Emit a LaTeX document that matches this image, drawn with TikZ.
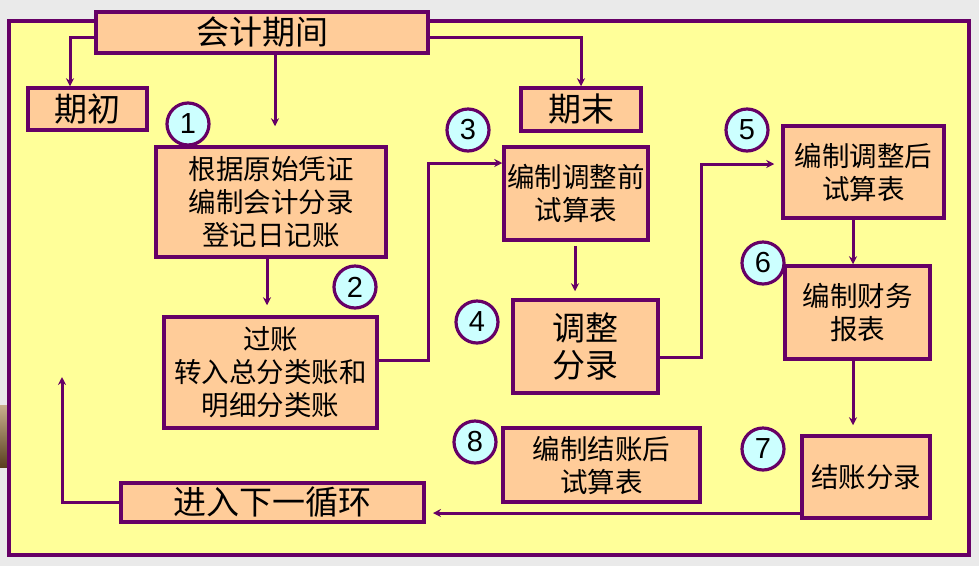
\documentclass[tikz,border=0pt]{standalone}
\usepackage{fontspec}
\setmainfont{Noto Sans CJK SC}
\newfontfamily\cjk{Noto Sans CJK SC}
\newfontfamily\numfont{Liberation Sans}
\usetikzlibrary{arrows.meta}
\definecolor{pur}{HTML}{660066}
\definecolor{panel}{HTML}{FFFF99}
\definecolor{boxfill}{HTML}{FFCC99}
\definecolor{circfill}{HTML}{CCFFFF}
\definecolor{bg}{HTML}{EAEAEA}
\tikzset{
  stepbox/.style={draw=pur, line width=3.5pt, fill=boxfill, inner sep=0pt, align=center, text=black},
  bigtxt/.style={font=\cjk\fontsize{33}{37}\selectfont},
  smalltxt/.style={font=\cjk\fontsize{27.5}{33}\selectfont},
  numcirc/.style={circle, draw=pur, line width=3.2pt, fill=circfill, minimum size=42pt, inner sep=0pt, font=\numfont\fontsize{29}{29}\selectfont},
  arr/.style={draw=pur, line width=3pt, -{Stealth[length=8pt,width=8pt]}},
  ln/.style={draw=pur, line width=3pt}
}
\begin{document}
\begin{tikzpicture}[x=1pt,y=-1pt]
\useasboundingbox (0,0) rectangle (979,566);
\fill[bg] (0,0) rectangle (979,566);
\shade[top color={rgb,255:red,200;green,176;blue,140}, bottom color={rgb,255:red,90;green,64;blue,32}] (0,405) rectangle (8,467);
\draw[pur, line width=3.5pt, fill=panel] (9,21) rectangle (969,555);

% nodes
\node[stepbox, bigtxt, minimum width=332pt, minimum height=41pt] (top) at (262,32.5) {会计期间};
\node[stepbox, bigtxt, minimum width=119pt, minimum height=42pt] (chu) at (87.5,109) {期初};
\node[stepbox, bigtxt, minimum width=120pt, minimum height=43pt] (mo) at (581,109.5) {期末};
\node[stepbox, smalltxt, minimum width=230pt, minimum height=110pt] (b1) at (271,202) {根据原始凭证\\编制会计分录\\登记日记账};
\node[stepbox, smalltxt, minimum width=213pt, minimum height=111pt] (b2) at (270.5,372.5) {过账\\转入总分类账和\\明细分类账};
\node[stepbox, smalltxt, minimum width=144pt, minimum height=93pt] (b3) at (576,193.5) {编制调整前\\试算表};
\node[stepbox, bigtxt, minimum width=145pt, minimum height=93pt] (b4) at (585.5,346.5) {调整\\分录};
\node[stepbox, smalltxt, minimum width=161pt, minimum height=92pt] (b5) at (863.5,172) {编制调整后\\试算表};
\node[stepbox, smalltxt, minimum width=145pt, minimum height=93pt] (b6) at (857.5,312.5) {编制财务\\报表};
\node[stepbox, smalltxt, minimum width=128pt, minimum height=82pt] (b7) at (866,477) {结账分录};
\node[stepbox, smalltxt, minimum width=197pt, minimum height=74pt] (b8) at (601.5,465) {编制结账后\\试算表};
\node[stepbox, bigtxt, minimum width=303pt, minimum height=39pt] (b9) at (272.5,502.5) {进入下一循环};

% numbered circles
\node[numcirc] (c1) at (188,124) {1};
\node[numcirc] (c2) at (355,287) {2};
\node[numcirc] (c3) at (468,130) {3};
\node[numcirc] (c4) at (477,322) {4};
\node[numcirc] (c5) at (747,130) {5};
\node[numcirc] (c6) at (763,263) {6};
\node[numcirc] (c7) at (763,449) {7};
\node[numcirc] (c8) at (475,442) {8};

% helper coordinates
\coordinate (k1) at (428,163);
\coordinate (k2) at (701,164);
\coordinate (e7) at (433,513);
\coordinate (e9) at (62,377);

% connectors
\draw[arr] ([yshift=-4.5pt]top.west) -| ([xshift=-17.5pt]chu.north);
\draw[arr] ([yshift=-4.5pt]top.east) -| (mo.north);
\draw[arr, shorten >=19pt] ([xshift=13pt]top.south) -- ([xshift=13pt]top.south |- b1.north);
\draw[arr, shorten >=10pt] ([xshift=-4pt]b1.south) -- ([xshift=-4pt]b1.south |- b2.north);
\draw[arr] ([yshift=12.5pt]b2.east) -| (k1) -- ([yshift=30.5pt]b3.west);
\draw[arr, shorten <=4pt, shorten >=7pt] ([xshift=-1pt]b3.south) -- ([xshift=-1pt]b3.south |- b4.north);
\draw[arr, shorten >=7pt] ([yshift=-10.5pt]b4.east) -| (k2) -- ([yshift=8pt]b5.west);
\draw[arr] ([xshift=-10.5pt]b5.south) -- ([xshift=-10.5pt]b5.south |- b6.north);
\draw[arr, shorten >=9pt] ([xshift=-4.5pt]b6.south) -- ([xshift=-4.5pt]b6.south |- b7.north);
\draw[arr] ([yshift=-36pt]b7.west) -- (e7);
\draw[arr] (b9.west) -| (e9);
\end{tikzpicture}
\end{document}
